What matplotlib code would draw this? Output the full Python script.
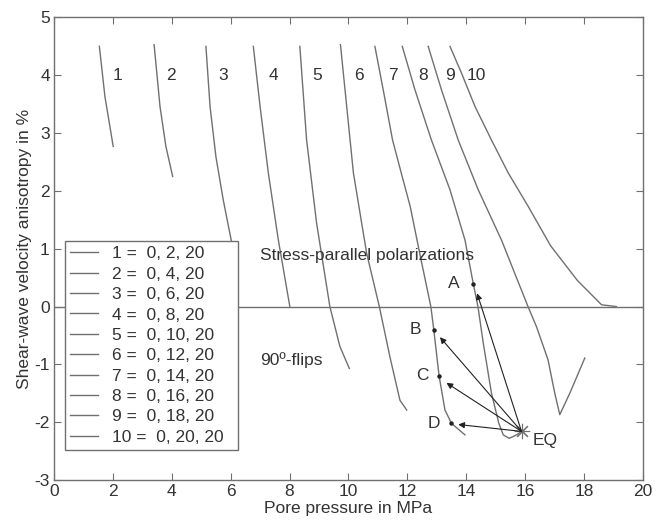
import matplotlib
matplotlib.use("Agg")
import matplotlib.pyplot as plt

plt.rcParams["font.family"] = ["Liberation Sans", "DejaVu Sans"]
plt.rcParams["font.size"] = 12.5
plt.rcParams["axes.unicode_minus"] = False

# pore pressure (MPa) and anisotropy (%)
pressure = [
    [1.54, 1.73, 2.01],
    [3.40, 3.60, 3.80, 4.03],
    [5.16, 5.30, 5.50, 5.75, 6.03, 6.25],
    [6.77, 7.00, 7.28, 7.62, 8.01],
    [8.35, 8.58, 8.92, 9.37, 9.71, 10.03],
    [9.73, 10.17, 10.62, 11.05, 11.41, 11.75, 11.98],
    [10.90, 11.20, 11.50, 11.80, 12.10, 12.43, 12.80, 12.90, 13.08, 13.28, 13.50, 13.96],
    [11.83, 12.26, 12.82, 13.45, 13.96, 14.24, 14.40, 14.58, 14.86, 15.11, 15.26, 15.46, 15.71, 15.88],
    [12.71, 13.16, 13.73, 14.41, 15.20, 16.10, 16.39, 16.78, 17.01, 17.18, 17.52, 18.03],
    [13.45, 13.84, 14.30, 14.86, 15.43, 16.11, 16.87, 17.78, 18.60, 19.10],
]
anisotropy = [
    [4.50, 3.63, 2.77],
    [4.53, 3.46, 2.77, 2.25],
    [4.50, 3.46, 2.59, 1.84, 1.12, 0.60],
    [4.50, 3.46, 2.31, 1.15, 0.00],
    [4.50, 2.88, 1.44, 0.00, -0.69, -1.07],
    [4.53, 2.31, 0.92, 0.00, -0.87, -1.62, -1.79],
    [4.50, 3.70, 2.88, 2.30, 1.73, 0.90, 0.00, -0.40, -1.20, -1.79, -2.02, -2.22],
    [4.50, 3.75, 2.88, 2.02, 1.15, 0.40, 0.00, -0.63, -1.50, -2.02, -2.22, -2.28, -2.22, -2.16],
    [4.50, 3.75, 2.88, 2.02, 1.15, 0.00, -0.35, -0.92, -1.50, -1.87, -1.50, -0.89],
    [4.50, 4.04, 3.46, 2.88, 2.31, 1.73, 1.05, 0.45, 0.03, 0.00],
]
legend_labels = [f"{i} =  0, {2 * i}, 20" for i in range(1, 11)]
curve_names = [str(i) for i in range(1, 11)]
name_x = [2.16, 3.96, 5.73, 7.45, 8.95, 10.35, 11.52, 12.54, 13.45, 14.33]
name_y = 4.0

# earthquake point and the four projected states
eq = (15.88, -2.16)
point_names = ["A", "B", "C", "D"]
point_x = [14.22, 12.90, 13.08, 13.50]
point_y = [0.39, -0.40, -1.20, -2.02]
head_x = [14.37, 13.11, 13.33, 13.73]
head_y = [0.23, -0.53, -1.32, -2.04]

gray = "#707070"
text_c = "#333333"

fig = plt.figure(figsize=(6.62, 5.22), dpi=100)
ax = fig.add_axes([0.0816, 0.0805, 0.8894, 0.886])

handles = []
for px, py, lab in zip(pressure, anisotropy, legend_labels):
    (ln,) = ax.plot(px, py, color=gray, lw=1.0, label=lab)
    handles.append(ln)

ax.axhline(0, color=gray, lw=1.0)

for nm, nx in zip(curve_names, name_x):
    ax.text(nx, name_y, nm, ha="center", va="center", color=text_c)

for hx, hy in zip(head_x, head_y):
    ax.annotate("", xy=(hx, hy), xytext=eq,
                arrowprops=dict(arrowstyle="-|>", color="#222222", lw=0.8,
                                mutation_scale=9, shrinkA=0, shrinkB=0))
ax.plot(point_x, point_y, "o", color="#222222", ms=2.2)
ax.plot([eq[0]], [eq[1]], marker=(8, 2, 0), color=gray, ms=11, mew=0.8)

label_dx = [-0.64, -0.61, -0.56, -0.60]
for nm, x, y, dx in zip(point_names, point_x, point_y, label_dx):
    ax.text(x + dx, y, nm, ha="center", va="center", color=text_c)
ax.text(16.67, -2.31, "EQ", ha="center", va="center", color=text_c)

ax.text(7.0, 0.89, "Stress-parallel polarizations", ha="left", va="center", color=text_c)
ax.text(7.0, -0.92, "90º-flips", ha="left", va="center", color=text_c)

ax.set_xlim(0, 20)
ax.set_ylim(-3, 5)
ax.set_xticks(range(0, 21, 2))
ax.set_yticks(range(-3, 6))
ax.set_xlabel("Pore pressure in MPa", color=text_c, labelpad=1)
ax.set_ylabel("Shear-wave velocity anisotropy in %", color=text_c, labelpad=2)
ax.tick_params(direction="in", top=True, right=True, length=5, width=0.8,
               colors=gray, labelcolor=text_c, pad=3)
for sp in ax.spines.values():
    sp.set_color(gray)
    sp.set_linewidth(1.0)

leg = ax.legend(handles=handles, loc="lower left", bbox_to_anchor=(0.019, 0.065, 0.293, 0.443),
                mode="expand", fancybox=False, framealpha=1, edgecolor=gray,
                handlelength=1.6, handletextpad=0.8, labelspacing=0.3,
                borderpad=0.3, borderaxespad=0)
leg.get_frame().set_linewidth(1.0)
for t in leg.get_texts():
    t.set_color(text_c)
leg.set_zorder(5)

fig.savefig("out.png", dpi=100)
